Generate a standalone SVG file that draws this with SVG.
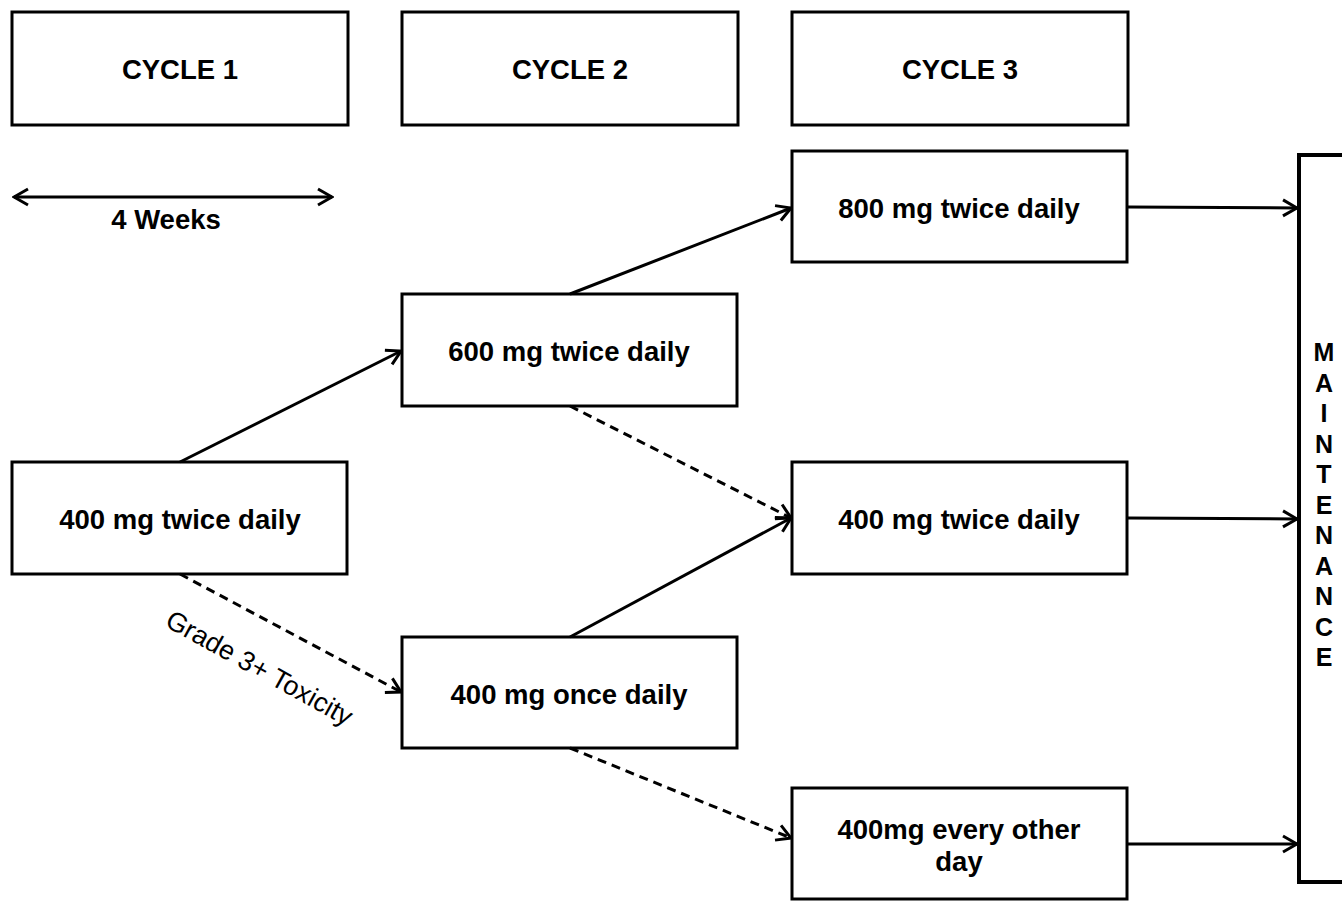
<svg xmlns="http://www.w3.org/2000/svg" width="1342" height="901" viewBox="0 0 1342 901">
<style>
.box{fill:#fff;stroke:#000;stroke-width:3}
.t{font-family:"Liberation Sans",Arial,sans-serif;font-weight:bold;font-size:27.5px;text-anchor:middle;fill:#000}
.c{stroke:#000;stroke-width:3;fill:none}
.d{stroke-dasharray:9,6}
</style>
<defs>
<marker id="a" viewBox="0 0 20 20" refX="18" refY="10" markerWidth="20" markerHeight="20" markerUnits="userSpaceOnUse" orient="auto-start-reverse">
<path d="M4,2 L18,10 L4,18" fill="none" stroke="#000" stroke-width="3"/>
</marker>
</defs>
<g id="cycle1"><rect class="box" x="12" y="12" width="336" height="113"/><text class="t" x="180" y="79">CYCLE 1</text></g>
<g id="cycle2"><rect class="box" x="402" y="12" width="336" height="113"/><text class="t" x="570" y="79">CYCLE 2</text></g>
<g id="cycle3"><rect class="box" x="792" y="12" width="336" height="113"/><text class="t" x="960" y="79">CYCLE 3</text></g>
<g id="n800"><rect class="box" x="792" y="151" width="335" height="111"/><text class="t" x="959" y="218">800 mg twice daily</text></g>
<g id="n600"><rect class="box" x="402" y="294" width="335" height="112"/><text class="t" x="569" y="361">600 mg twice daily</text></g>
<g id="n400a"><rect class="box" x="12" y="462" width="335" height="112"/><text class="t" x="180" y="529">400 mg twice daily</text></g>
<g id="n400b"><rect class="box" x="792" y="462" width="335" height="112"/><text class="t" x="959" y="529">400 mg twice daily</text></g>
<g id="n400once"><rect class="box" x="402" y="637" width="335" height="111"/><text class="t" x="569" y="704">400 mg once daily</text></g>
<g id="n400eod"><rect class="box" x="792" y="788" width="335" height="111"/><text class="t" x="959" y="839">400mg every other</text><text class="t" x="959" y="871">day</text></g>
<g id="maintenance"><rect x="1299" y="155" width="60" height="727" fill="#fff" stroke="#000" stroke-width="4"/>
<text class="t" x="1324" style="font-size:25px">
<tspan x="1324" y="361">M</tspan><tspan x="1324" y="391.5">A</tspan><tspan x="1324" y="422">I</tspan><tspan x="1324" y="452.5">N</tspan><tspan x="1324" y="483">T</tspan><tspan x="1324" y="513.5">E</tspan><tspan x="1324" y="544">N</tspan><tspan x="1324" y="574.5">A</tspan><tspan x="1324" y="605">N</tspan><tspan x="1324" y="635.5">C</tspan><tspan x="1324" y="666">E</tspan>
</text></g>
<g id="weeks"><line class="c" x1="14" y1="197" x2="332" y2="197" marker-start="url(#a)" marker-end="url(#a)"/><text class="t" x="166" y="229">4 Weeks</text></g>
<g id="connectors">
<line class="c" x1="180" y1="462" x2="401" y2="351" marker-end="url(#a)"/>
<line class="c d" x1="180" y1="574" x2="401" y2="692" marker-end="url(#a)"/>
<line class="c" x1="570" y1="294" x2="791" y2="208" marker-end="url(#a)"/>
<line class="c d" x1="570" y1="406" x2="791" y2="518" marker-end="url(#a)"/>
<line class="c" x1="570" y1="637" x2="791" y2="518" marker-end="url(#a)"/>
<line class="c d" x1="570" y1="748" x2="791" y2="838" marker-end="url(#a)"/>
<line class="c" x1="1128" y1="207" x2="1297" y2="208" marker-end="url(#a)"/>
<line class="c" x1="1128" y1="518" x2="1297" y2="519" marker-end="url(#a)"/>
<line class="c" x1="1128" y1="844" x2="1297" y2="844" marker-end="url(#a)"/>
<text x="0" y="0" transform="translate(255,676) rotate(29)" style="font-family:'Liberation Sans',Arial,sans-serif;font-size:27px;text-anchor:middle">Grade 3+ Toxicity</text>
</g>
</svg>
